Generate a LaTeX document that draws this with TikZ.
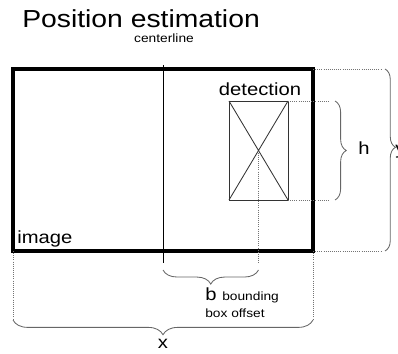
\documentclass[tikz,border=0pt]{standalone}
\usepackage{fontspec}
\setmainfont{Liberation Sans}[FakeStretch=1.15]
\usetikzlibrary{decorations.pathreplacing,positioning}

\begin{document}
\begin{tikzpicture}[
  x=0.025cm, y=-0.025cm,
  frame/.style={draw, line width=2.2pt},
  detbox/.style={draw=black!80, line width=0.6pt},
  guide/.style={draw=black!55, densely dotted, line width=0.5pt},
  brc/.style={draw=black!60, line width=0.6pt, decorate,
    decoration={brace, amplitude=#1}},
  brc/.default=9pt,
  big/.style={font=\fontsize{12.5}{15}\selectfont, inner sep=0pt},
  tiny/.style={font=\fontsize{8.5}{10}\selectfont, inner sep=0pt}
]
\useasboundingbox (0,0) rectangle (398,353);

% image frame and centerline
\coordinate (imgtl) at (13,69);
\coordinate (imgbr) at (313,251);
\draw[frame] (imgtl) rectangle (imgbr);
\coordinate (ctop) at (163,65);
\coordinate (cbot) at (163,263);
\draw[line width=0.7pt] (ctop) -- (cbot);

% detection box
\coordinate (dettl) at (229,101);
\coordinate (detbr) at (288,200);
\coordinate (detc) at (258.5,150.5);
\draw[detbox] (dettl) rectangle (detbr);
\draw[detbox] (dettl) -- (detbr) (dettl |- detbr) -- (detbr |- dettl);

% texts
\node[anchor=base west, font=\fontsize{17.5}{21}\selectfont, inner sep=0pt] (title) at (22,28) {Position estimation};
\node[tiny, anchor=base] (centerlbl) at (164,43) {centerline};
\node[big, anchor=base] (detlbl) at (260,96) {detection};
\node[big, anchor=base west] (imglbl) at (17,243) {image};

% height of detection
\coordinate (hdtop) at (330,101);
\coordinate (hdbot) at (330,200);
\coordinate (hbtop) at (335,101);
\coordinate (hbbot) at (335,200);
\draw[guide] (detbr |- dettl) -- (hdtop);
\draw[guide] (detbr) -- (hdbot);
\draw[brc=8pt] (hbtop) -- (hbbot);
\node[big, anchor=base west] (hlbl) at (358,154) {h};

% height of image
\coordinate (ydtop) at (381,69);
\coordinate (ydbot) at (381,251);
\coordinate (ybtop) at (385,69);
\coordinate (ybbot) at (385,251);
\draw[guide] (imgbr |- imgtl) -- (ydtop);
\draw[guide] (imgbr) -- (ydbot);
\draw[brc=7.5pt, decoration={aspect=0.43}] (ybtop) -- (ybbot);
\node[big, anchor=base west] (ylbl) at (395,154) {y};

% bounding box offset
\coordinate (bdot) at (258.5,263);
\coordinate (bbl) at (163,270);
\coordinate (bbr) at (258.5,270);
\draw[guide] (detc) -- (bdot);
\draw[brc=10pt] (bbr) -- (bbl);
\node[big, anchor=base west] (blbl) at (205,300) {b};
\node[tiny, anchor=base west] (boundlbl) at (222,300) {bounding};
\node[tiny, anchor=base west] (offlbl) at (205,317) {box offset};

% width of image
\coordinate (xdl) at (13,320);
\coordinate (xdr) at (313,320);
\draw[guide] (imgtl |- imgbr) -- (xdl);
\draw[guide] (imgbr) -- (xdr);
\draw[brc=10.5pt] (xdr) -- (xdl);
\node[big, anchor=base] (xlbl) at (163,348) {x};
\end{tikzpicture}
\end{document}
